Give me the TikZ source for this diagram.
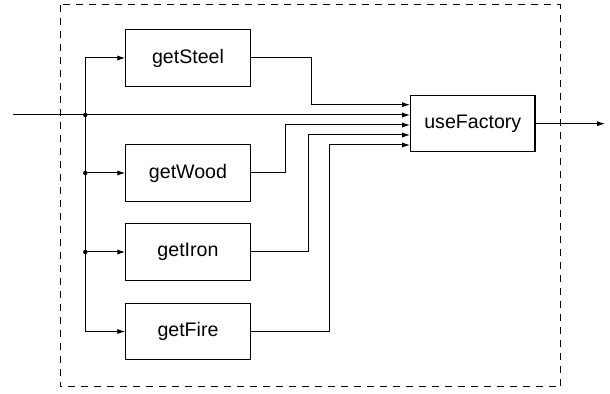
\documentclass[tikz,border=0pt]{standalone}
\usepackage{fontspec}
\setmainfont{Liberation Sans}
\usetikzlibrary{arrows.meta}
\begin{document}
\begin{tikzpicture}[x=0.5pt,y=-0.5pt,
  fbox/.style={draw, line width=0.55pt, minimum width=62.2pt, minimum height=28.2pt, inner sep=0pt, font=\fontsize{9.8}{12}\selectfont},
  conn/.style={line width=0.5pt},
  arr/.style={conn, -{Latex[length=4pt,width=2.6pt]}},
  jdot/.style={circle, fill, inner sep=0pt, minimum size=2.2pt},
  frame/.style={draw, line width=0.5pt, dash pattern=on 3.5pt off 3pt}]
\useasboundingbox (0,0) rectangle (610,394);
\draw[frame] (60,5) rectangle (560.7,387);
\node[fbox] (steel) at (188,58) {getSteel};
\node[fbox] (wood) at (188,173) {getWood};
\node[fbox] (iron) at (188,252) {getIron};
\node[fbox] (fire) at (188,331.5) {getFire};
\node[fbox] (uf) at (472.8,123.7) {useFactory};
% input
\coordinate (in) at (13,115);
\coordinate (out) at (605,123.7);
\draw[arr] (in) -- (in -| uf.west);
% bus
\coordinate (btop) at (85.3,58);
\coordinate (bbot) at (85.3,331.5);
\draw[conn] (btop) -- (bbot);
\draw[arr] (btop) -- (steel.west);
\draw[arr] (bbot) -- (fire.west);
\node[jdot] (j1) at (85.3,115) {};
\node[jdot] (j2) at (85.3,173) {};
\node[jdot] (j3) at (85.3,252) {};
\draw[arr] (j2.center) -- (wood.west);
\draw[arr] (j3.center) -- (iron.west);
% outputs to useFactory
\coordinate (s1) at (311,104.7);
\coordinate (w1) at (285,125);
\coordinate (i1) at (308,135);
\coordinate (f1) at (329.5,145);
\draw[arr] (steel.east) -| (s1) -- (s1 -| uf.west);
\draw[arr] (wood.east) -| (w1) -- (w1 -| uf.west);
\draw[arr] (iron.east) -| (i1) -- (i1 -| uf.west);
\draw[arr] (fire.east) -| (f1) -- (f1 -| uf.west);
\draw[arr] (uf.east) -- (out);
\end{tikzpicture}
\end{document}
